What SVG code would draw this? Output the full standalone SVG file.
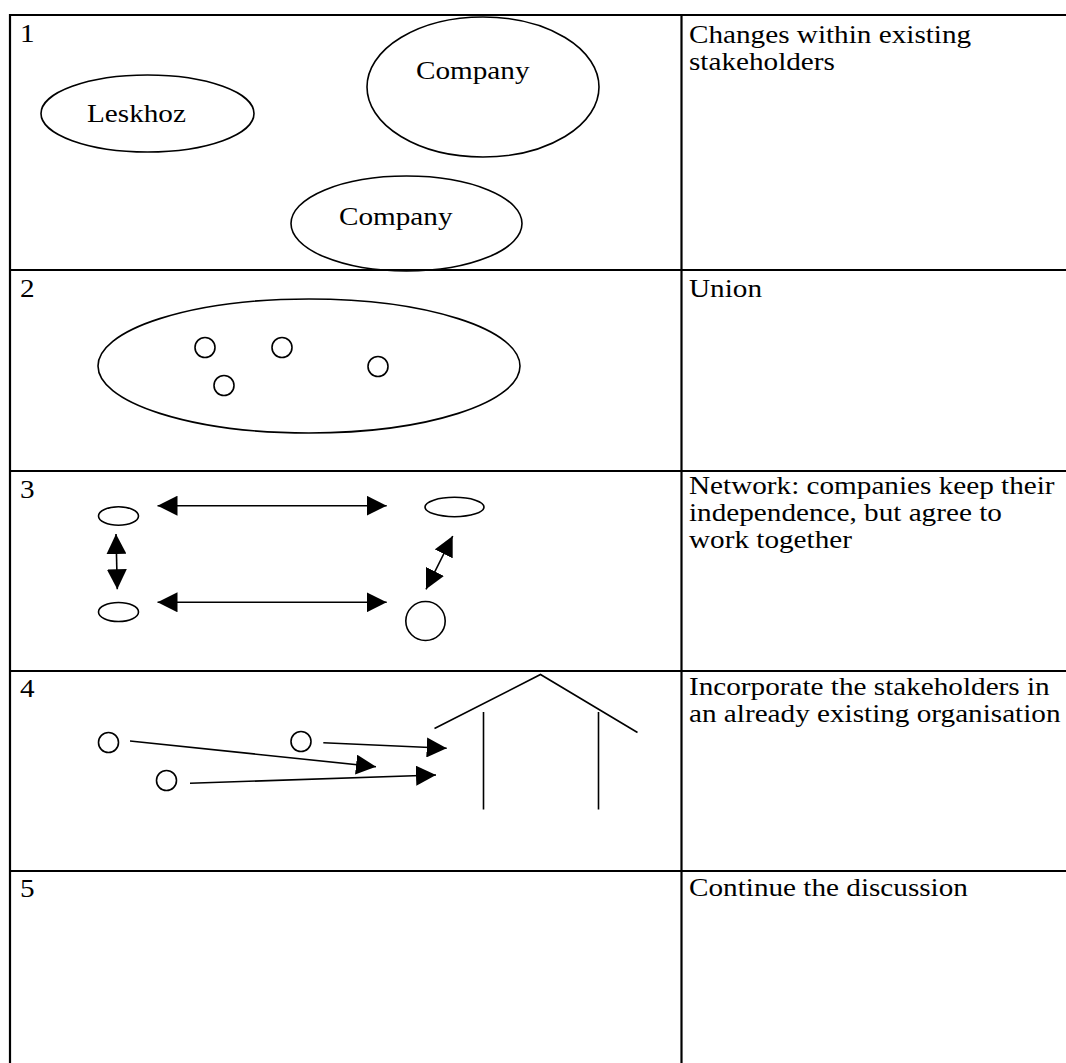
<svg xmlns="http://www.w3.org/2000/svg" width="1066" height="1063" viewBox="0 0 1066 1063">
<style>
.grid{stroke:#000;stroke-width:2.2;fill:none}
.sh{stroke:#000;stroke-width:1.6;fill:none}
.cn{stroke:#000;stroke-width:1.6;fill:none}
.t{font-family:"Liberation Serif","Times New Roman",serif;font-size:25px;fill:#000}
</style>
<defs>
<marker id="ah" viewBox="0 0 20 20" refX="20" refY="10" markerWidth="20" markerHeight="20" markerUnits="userSpaceOnUse" orient="auto-start-reverse">
<path d="M0,0 L20,10 L0,20 z" fill="#000"/>
</marker>
</defs>
<rect width="1066" height="1063" fill="#fff"/>
<g id="table" class="grid">
<line x1="10" y1="15" x2="1070" y2="15"/>
<line x1="10" y1="270" x2="1070" y2="270"/>
<line x1="10" y1="471" x2="1070" y2="471"/>
<line x1="10" y1="671" x2="1070" y2="671"/>
<line x1="10" y1="871" x2="1070" y2="871"/>
<line x1="10" y1="14" x2="10" y2="1066"/>
<line x1="681.5" y1="14" x2="681.5" y2="1066"/>
</g>
<g id="row-labels" class="t">
<text transform="matrix(1.168 0 0 1 20 42)">1</text>
<text transform="matrix(1.168 0 0 1 20 297)">2</text>
<text transform="matrix(1.168 0 0 1 20 498)">3</text>
<text transform="matrix(1.168 0 0 1 20 697)">4</text>
<text transform="matrix(1.168 0 0 1 20 897)">5</text>
</g>
<g id="descriptions" class="t">
<text transform="matrix(1.168 0 0 1 689 43)">Changes within existing</text>
<text transform="matrix(1.168 0 0 1 689 70)">stakeholders</text>
<text transform="matrix(1.168 0 0 1 689 297)">Union</text>
<text transform="matrix(1.168 0 0 1 689 494)">Network: companies keep their</text>
<text transform="matrix(1.168 0 0 1 689 521)">independence, but agree to</text>
<text transform="matrix(1.168 0 0 1 689 548)">work together</text>
<text transform="matrix(1.168 0 0 1 689 695)">Incorporate the stakeholders in</text>
<text transform="matrix(1.168 0 0 1 689 722)">an already existing organisation</text>
<text transform="matrix(1.168 0 0 1 689 896)">Continue the discussion</text>
</g>
<g id="leskhoz"><ellipse class="sh" cx="147.5" cy="113.5" rx="106.5" ry="38.5"/><text class="t" transform="matrix(1.168 0 0 1 87 122)">Leskhoz</text></g>
<g id="company-top"><ellipse class="sh" cx="483" cy="87" rx="116" ry="70"/><text class="t" transform="matrix(1.168 0 0 1 416 79)">Company</text></g>
<g id="company-bottom"><ellipse class="sh" cx="406.5" cy="223.5" rx="115.5" ry="47.5"/><text class="t" transform="matrix(1.168 0 0 1 339 225)">Company</text></g>
<g id="union"><ellipse class="sh" cx="309" cy="366" rx="211" ry="67"/>
<circle class="sh" cx="205" cy="347.5" r="10"/><circle class="sh" cx="282" cy="347.5" r="10"/>
<circle class="sh" cx="224" cy="385.5" r="10"/><circle class="sh" cx="378" cy="366.5" r="10"/></g>
<g id="net-tl"><ellipse class="sh" cx="118.5" cy="516" rx="20" ry="9.3"/></g>
<g id="net-bl"><ellipse class="sh" cx="118.5" cy="612" rx="20" ry="9.5"/></g>
<g id="net-tr"><ellipse class="sh" cx="454.5" cy="507" rx="29.5" ry="9.7"/></g>
<g id="net-br"><ellipse class="sh" cx="425.5" cy="621" rx="19.7" ry="19.5"/></g>
<g id="inc-a"><circle class="sh" cx="108.5" cy="742.5" r="10"/></g>
<g id="inc-b"><circle class="sh" cx="301" cy="741.5" r="10"/></g>
<g id="inc-c"><circle class="sh" cx="166.5" cy="780.5" r="10"/></g>
<g id="organisation" class="sh">
<polyline points="434.5,728.5 540.5,674.5 637.5,732.5"/>
<line x1="483.5" y1="712" x2="483.5" y2="809.5"/>
<line x1="598.5" y1="712" x2="598.5" y2="809.5"/>
</g>
<g id="connectors" class="cn">
<line x1="157.5" y1="505.7" x2="386.7" y2="505.7" marker-start="url(#ah)" marker-end="url(#ah)"/>
<line x1="157.5" y1="602.3" x2="386.7" y2="602.3" marker-start="url(#ah)" marker-end="url(#ah)"/>
<line x1="116" y1="534" x2="117.3" y2="589.3" marker-start="url(#ah)" marker-end="url(#ah)"/>
<line x1="452.7" y1="536" x2="426" y2="589.3" marker-start="url(#ah)" marker-end="url(#ah)"/>
<line x1="130" y1="741" x2="376" y2="766.7" marker-end="url(#ah)"/>
<line x1="323.3" y1="742.7" x2="446.7" y2="748.3" marker-end="url(#ah)"/>
<line x1="190" y1="783.3" x2="436" y2="775" marker-end="url(#ah)"/>
</g>
</svg>
